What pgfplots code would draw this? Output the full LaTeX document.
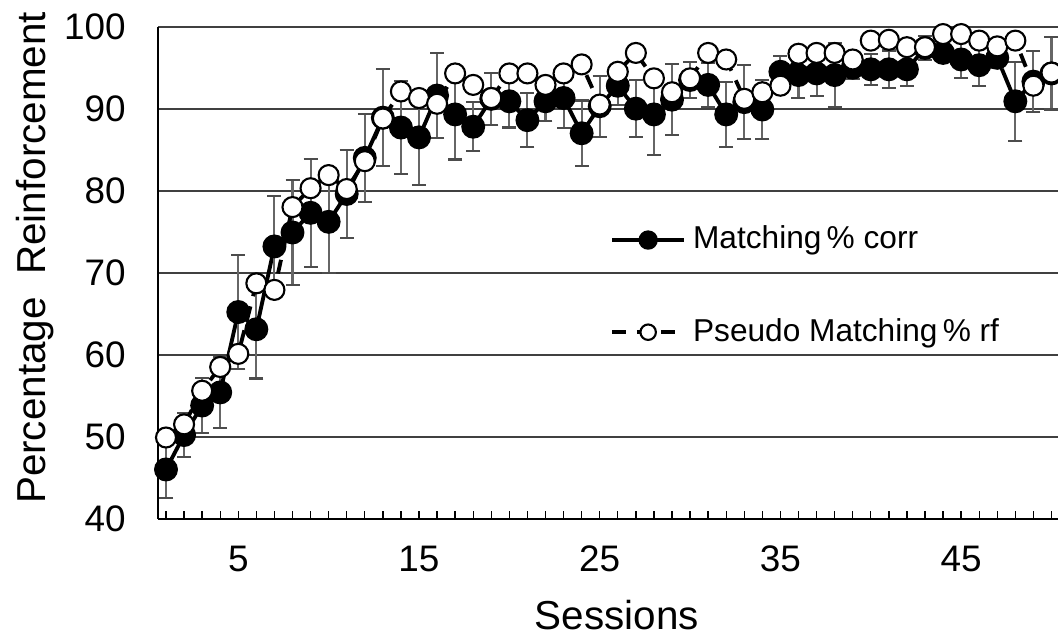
\documentclass[border=0pt]{standalone}
\usepackage{fontspec}
\setmainfont{Liberation Sans}
\usepackage{pgfplots}
\usepackage{pgfplotstable}
\pgfplotsset{compat=1.18}

% s = session, m = Matching % corr, e = error, p = Pseudo Matching % rf
\pgfplotstableread{
s  m     e    p
1  46.0  3.5  49.9
2  50.2  2.7  51.5
3  53.8  3.4  55.6
4  55.4  4.3  58.5
5  65.2  7.0  60.1
6  63.1  6.0  68.7
7  73.2  6.1  67.9
8  74.9  6.4  78.0
9  77.3  6.6  80.3
10 76.2  6.2  81.9
11 79.6  5.4  80.2
12 84.0  5.4  83.6
13 88.9  5.9  88.8
14 87.7  5.7  92.1
15 86.5  5.8  91.3
16 91.6  5.2  90.6
17 89.3  5.5  94.3
18 87.8  3.0  92.9
19 91.2  3.2  91.3
20 90.9  3.2  94.3
21 88.6  3.3  94.3
22 90.9  2.4  92.9
23 91.3  3.7  94.3
24 87.0  4.0  95.4
25 90.3  3.7  90.5
26 92.8  2.3  94.5
27 90.0  3.5  96.8
28 89.3  4.9  93.7
29 91.1  4.3  92.0
30 93.5  2.2  93.7
31 92.9  2.7  96.8
32 89.3  4.0  96.0
33 90.8  4.5  91.2
34 89.9  3.6  92.0
35 94.5  1.9  92.8
36 94.1  2.8  96.7
37 94.3  2.8  96.8
38 94.1  3.9  96.8
39 95.0  1.4  96.0
40 94.8  1.9  98.3
41 94.8  2.3  98.4
42 94.8  2.0  97.5
43 97.4  1.5  97.5
44 96.8  1.0  99.1
45 96.0  2.3  99.1
46 95.3  2.5  98.3
47 96.2  1.2  97.6
48 90.9  4.8  98.3
49 93.3  3.7  92.8
50 94.3  4.4  94.4
}\sessions

\begin{document}
\begin{tikzpicture}
\begin{axis}[
  name=ax,
  scale only axis,
  width=9cm, height=4.92cm,
  xmin=0.557, xmax=50.36,
  ymin=40, ymax=100,
  axis lines=left,
  axis line style={-, line width=0.6pt},
  xtick={5,15,25,35,45},
  minor xtick={1,...,50},
  ytick={40,50,...,100},
  major tick length=0.08cm, minor tick length=0.08cm,
  tick align=inside,
  xtick style={black, line width=0.4pt},
  ytick style={draw=none},
  ymajorgrids,
  grid style={black!75, line width=0.6pt},
  tick label style={font=\fontsize{10.5}{12}\selectfont},
  xticklabel style={yshift=-0.15cm},
  yticklabel style={xshift=-0.2cm},
  /pgf/number format/assume math mode=true,
  xlabel={Sessions},
  ylabel={Percentage\ \ Reinforcement},
  label style={font=\fontsize{11.5}{13}\selectfont},
  xlabel style={at={(axis description cs:0.51,-0.195)}, anchor=center},
  ylabel style={at={(axis description cs:-0.137,0.53)}, anchor=center},
  legend style={draw=none, fill=none, at={(rel axis cs:0.49,0.625)},
    anchor=north west, row sep=14.2pt,
    font=\fontsize{9}{10.8}\selectfont},
  legend cell align=left,
  legend image code/.code={
    \draw[#1, mark=none] (0cm,0cm) -- (0.72cm,0cm);
    \draw[#1, only marks, mark size=2.2pt] plot coordinates {(0.36cm,0cm)};
  },
]
\addplot[black, line width=1.1pt, mark=*, mark size=2.85pt,
  mark options={solid, fill=black},
  error bars/.cd, y dir=both, y explicit,
  error bar style={black!60, line width=0.6pt, solid},
  error mark options={rotate=90, mark size=0.07cm, black!70, line width=0.6pt}]
  table[x=s, y=m, y error=e]{\sessions};
\addlegendentry{Matching\,\% corr}
\addplot[black, line width=1.1pt, dash pattern=on 4pt off 3pt,
  mark=*, mark size=2.85pt,
  mark options={solid, fill=white, line width=0.6pt}]
  table[x=s, y=p]{\sessions};
\addlegendentry{Pseudo Matching\,\% rf}
\end{axis}
\pgfresetboundingbox
\path ([xshift=-1.58cm, yshift=-1.183cm]ax.south west) rectangle ([yshift=0.267cm]ax.north east);
\end{tikzpicture}
\end{document}
